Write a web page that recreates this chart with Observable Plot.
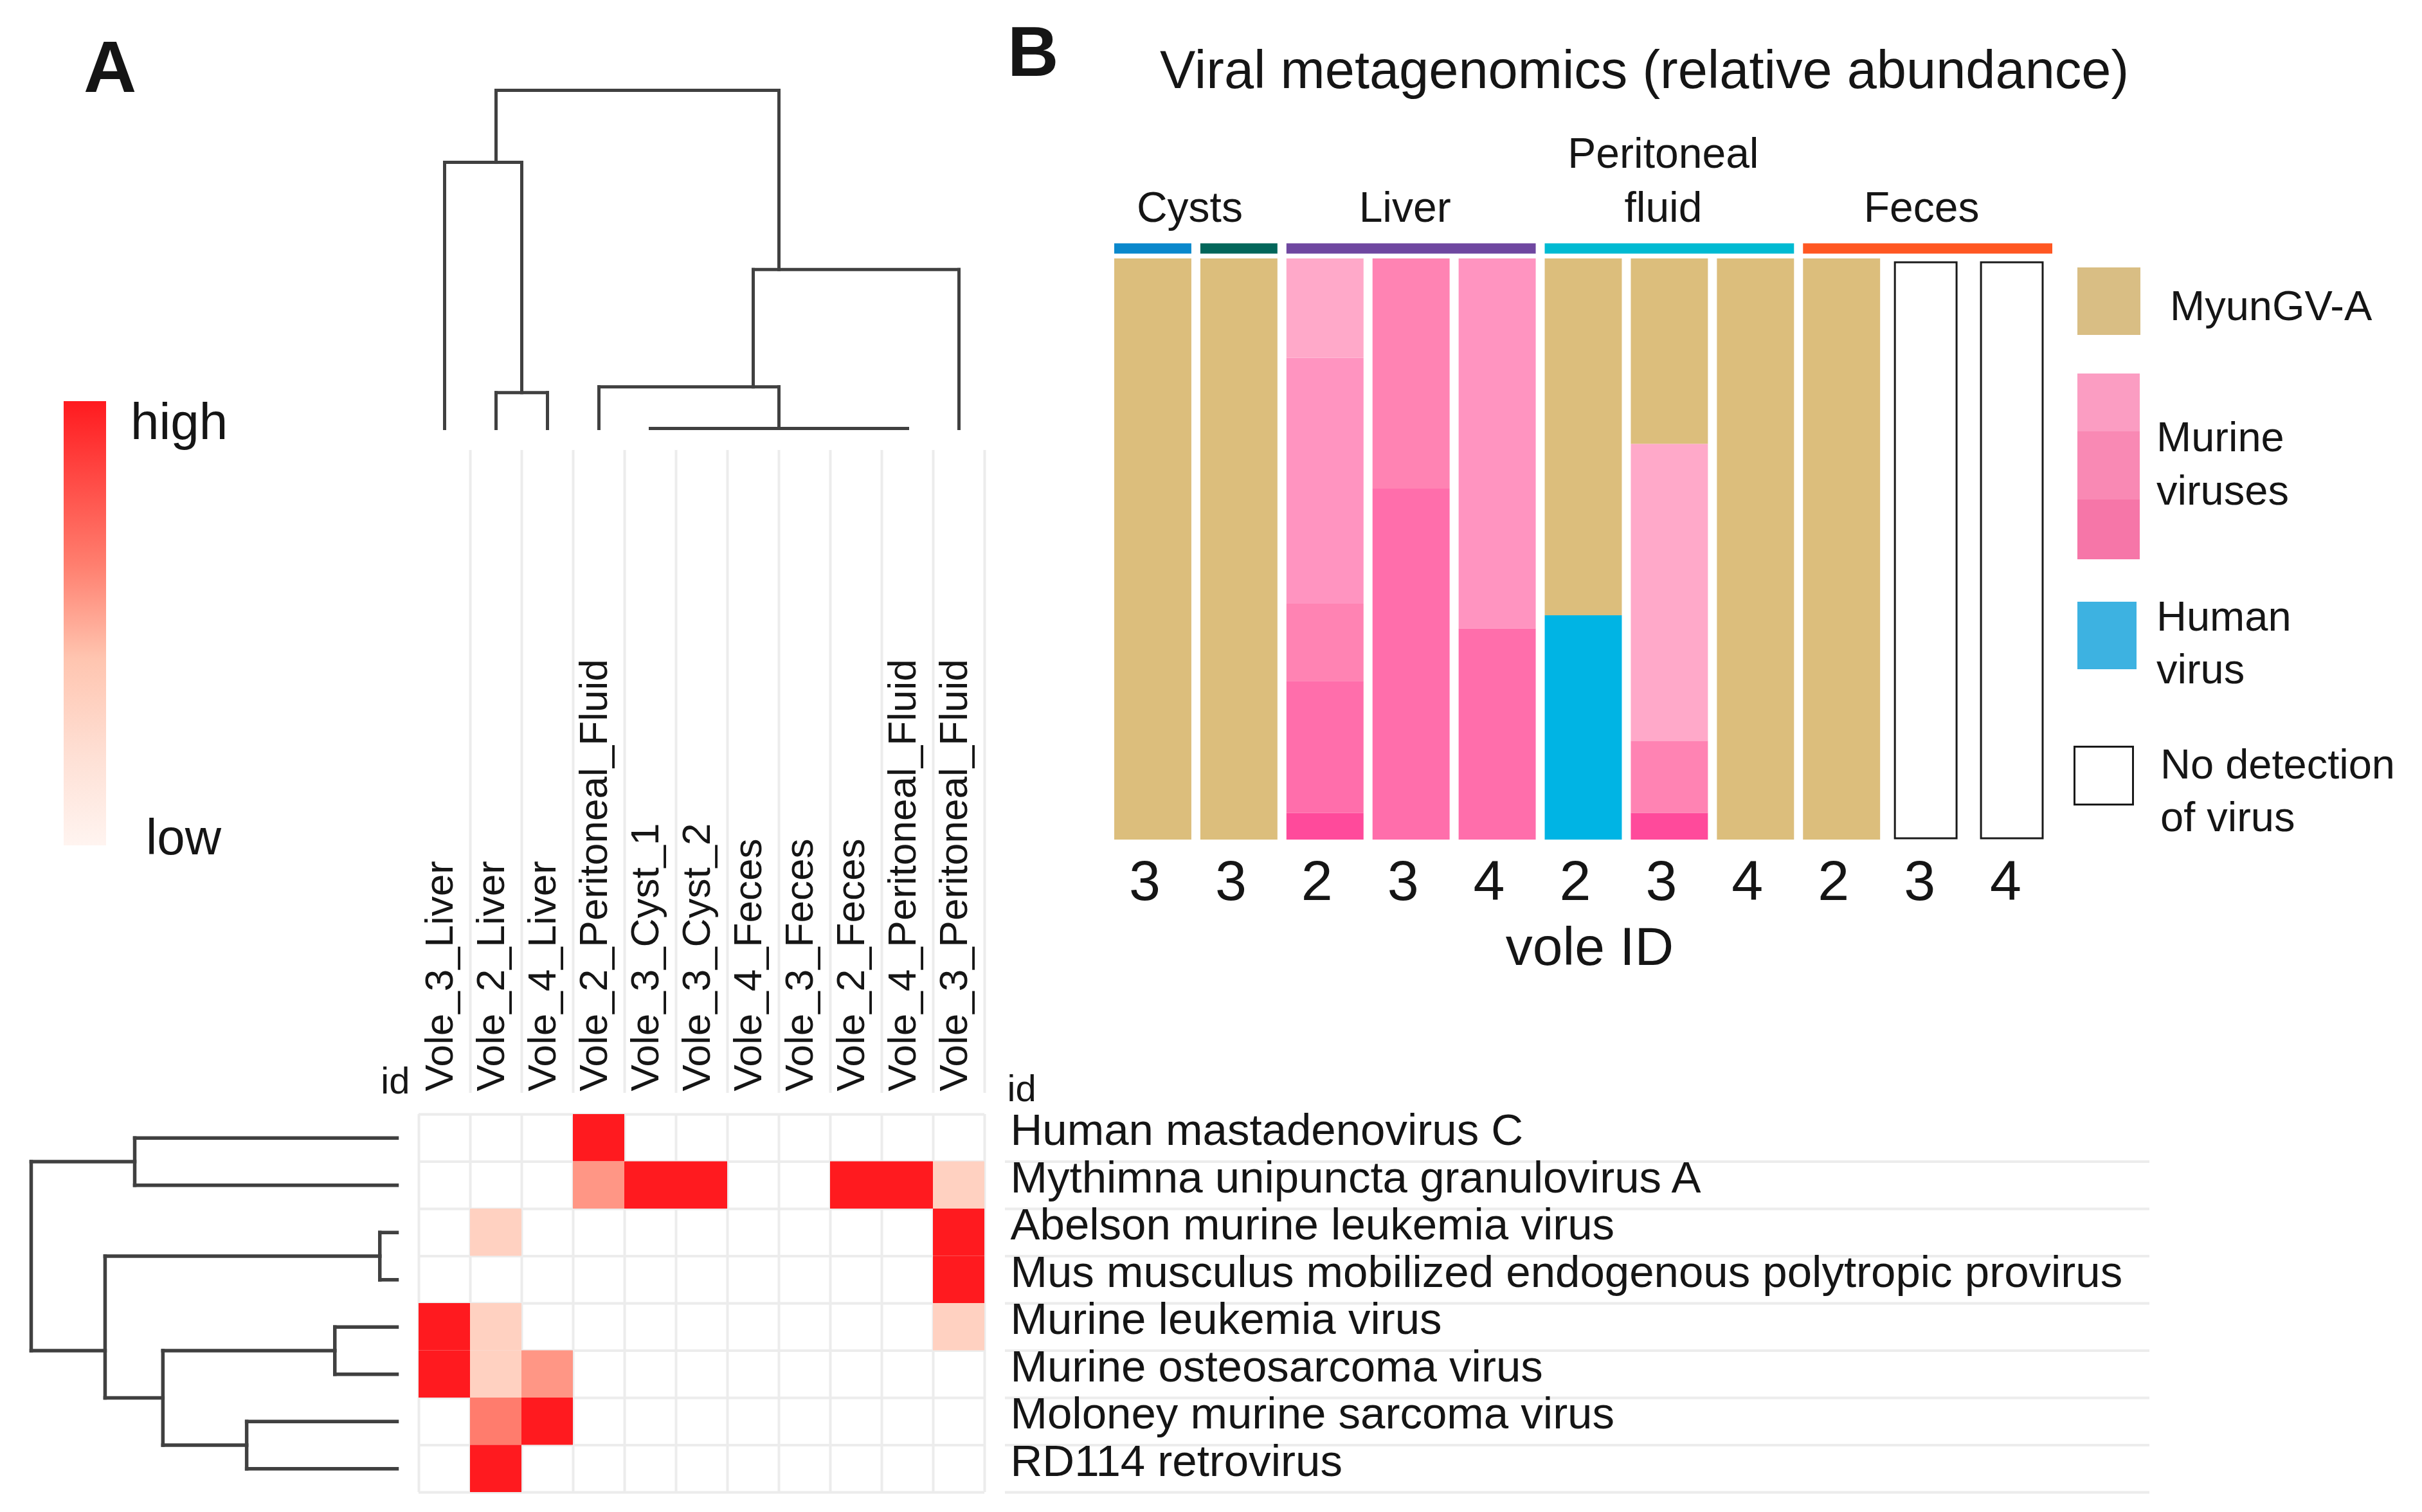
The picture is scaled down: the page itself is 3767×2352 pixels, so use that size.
<!DOCTYPE html>
<html><head><meta charset="utf-8">
<script src="https://cdn.jsdelivr.net/npm/d3@7"></script>
<script src="https://cdn.jsdelivr.net/npm/@observablehq/plot@0.6"></script>
<style>
html,body{margin:0;padding:0;background:#fff;}
#root{position:relative;width:3767px;height:2352px;overflow:hidden;font-family:"Liberation Sans",Arial,Helvetica,sans-serif;color:#151515;background:#fff;}
.lbl{position:absolute;white-space:pre;margin:0;padding:0;}
.sw{position:absolute;box-sizing:border-box;}
</style></head><body><div id="root"></div>
<script>
// ---------------- Panel A: heatmap data ----------------
const sampleIds = ["Vole_3_Liver","Vole_2_Liver","Vole_4_Liver","Vole_2_Peritoneal_Fluid","Vole_3_Cyst_1","Vole_3_Cyst_2","Vole_4_Feces","Vole_3_Feces","Vole_2_Feces","Vole_4_Peritoneal_Fluid","Vole_3_Peritoneal_Fluid"];
const virusNames = ["Human mastadenovirus C","Mythimna unipuncta granulovirus A","Abelson murine leukemia virus","Mus musculus mobilized endogenous polytropic provirus","Murine leukemia virus","Murine osteosarcoma virus","Moloney murine sarcoma virus","RD114 retrovirus"];
// relative abundance (0 = absent, 1 = high), rows = viruses, columns = samples
const abundance = [
  [0,0,0,1,0,0,0,0,0,0,0],
  [0,0,0,0.56,1,1,0,0,1,1,0.32],
  [0,0.32,0,0,0,0,0,0,0,0,1],
  [0,0,0,0,0,0,0,0,0,0,1],
  [1,0.32,0,0,0,0,0,0,0,0,0.32],
  [1,0.32,0.56,0,0,0,0,0,0,0,0],
  [0,0.64,1,0,0,0,0,0,0,0,0],
  [0,1,0,0,0,0,0,0,0,0,0]
];
const heatStops  = [0, 0.2, 0.42, 0.63, 1];
const heatColors = ["#FFF4F0", "#FEE0D5", "#FFC5B0", "#FF7F6F", "#FF1A1F"];
// dendrograms: leaves are indices in display order, heights relative to root
const colTree = [
  {id:"c12",   children:[1,2],           height:0.106},
  {id:"c012",  children:[0,"c12"],       height:0.787},
  {id:"c4_9",  children:[4,5,6,7,8,9],   height:0},
  {id:"c3_9",  children:[3,"c4_9"],      height:0.123},
  {id:"c3_10", children:["c3_9",10],     height:0.470},
  {id:"croot", children:["c012","c3_10"],height:1}
];
const rowTree = [
  {id:"r01",   children:[0,1],           height:0.717},
  {id:"r23",   children:[2,3],           height:0.047},
  {id:"r45",   children:[4,5],           height:0.170},
  {id:"r67",   children:[6,7],           height:0.411},
  {id:"r4_7",  children:["r45","r67"],   height:0.640},
  {id:"r2_7",  children:["r23","r4_7"],  height:0.798},
  {id:"rroot", children:["r01","r2_7"],  height:1}
];

// ---------------- Panel B: stacked bar data ----------------
const barSamples = ["Cyst_3a","Cyst_3b","Liver_2","Liver_3","Liver_4","PF_2","PF_3","PF_4","Feces_2","Feces_3","Feces_4"];
const voleIds    = ["3","3","2","3","4","2","3","4","2","3","4"];
const groupNames = ["Cysts","Liver","Peritoneal\nfluid","Feces"];
const groupFirst = [0,2,5,8];
const groupLast  = [1,4,7,10];
const stripFirst  = [0,1,2,5,8];
const stripLast   = [0,1,4,7,10];
const stripColors = ["#0A88CC","#03665A","#6F47A0","#00BAD2","#FF5722"];
const virusCategories = ["MyunGV-A","Human virus","Murine 1","Murine 2","Murine 3","Murine 4","Murine 5"];
const virusColors     = ["#DCBE7C","#00B4E4","#FFA9C9","#FF94C0","#FF83B3","#FF6EAB","#FF4A9B"];
// segments listed bottom to top (percent of reads)
const segSample  = ["Cyst_3a","Cyst_3b",
  "Liver_2","Liver_2","Liver_2","Liver_2","Liver_2",
  "Liver_3","Liver_3",
  "Liver_4","Liver_4",
  "PF_2","PF_2",
  "PF_3","PF_3","PF_3","PF_3",
  "PF_4","Feces_2"];
const segVirus   = ["MyunGV-A","MyunGV-A",
  "Murine 5","Murine 4","Murine 3","Murine 2","Murine 1",
  "Murine 4","Murine 3",
  "Murine 4","Murine 2",
  "Human virus","MyunGV-A",
  "Murine 5","Murine 3","Murine 1","MyunGV-A",
  "MyunGV-A","MyunGV-A"];
const segPercent = [100,100,
  4.6,22.7,13.3,42.3,17.1,
  60.4,39.6,
  36.3,63.7,
  38.6,61.4,
  4.6,12.4,51.1,31.9,
  100,100];
const noDetection = ["Feces_3","Feces_4"];

// ---------------- layout ----------------
const W = 3767, H = 2352;
const FONT = "'Liberation Sans',Arial,Helvetica,sans-serif";
const svgStyle = `position:absolute;left:0;top:0;background:transparent;overflow:visible;max-width:none;color:#151515;font-family:${FONT};`;
const rootEl = document.getElementById("root");

function addText(txt, left, baseline, size, opts = {}) {
  const d = document.createElement("div");
  d.className = "lbl";
  d.textContent = txt;
  const lh = opts.lineHeight || size;
  d.style.fontSize = size + "px";
  d.style.lineHeight = lh + "px";
  d.style.left = left + "px";
  d.style.top = (baseline - ((lh - 1.117 * size) / 2 + 0.905 * size)) + "px";
  if (opts.bold) d.style.fontWeight = "bold";
  rootEl.appendChild(d);
}
function addBox(left, topPx, w, h, css) {
  const d = document.createElement("div");
  d.className = "sw";
  Object.assign(d.style, {left: left + "px", top: topPx + "px", width: w + "px", height: h + "px"}, css);
  rootEl.appendChild(d);
}

function dendroSegments(tree) {
  const nodes = new Map();
  const pos = k => typeof k === "number" ? k + 0.5 : nodes.get(k).pos;
  const hgt = k => typeof k === "number" ? 0 : nodes.get(k).height;
  const leaves = k => typeof k === "number" ? [k] : nodes.get(k).leaves;
  const segs = [];
  for (const n of tree) {
    const lv = n.children.flatMap(leaves);
    nodes.set(n.id, {pos: d3.mean(lv) + 0.5, height: n.height, leaves: lv});
    const cp = n.children.map(pos);
    segs.push({p1: d3.min(cp), p2: d3.max(cp), h1: n.height, h2: n.height});
    for (const c of n.children) segs.push({p1: pos(c), p2: pos(c), h1: hgt(c), h2: n.height});
  }
  return segs;
}

// ---------------- Panel A: heatmap ----------------
const nC = sampleIds.length, nR = virusNames.length;
const cells = [];
abundance.forEach((row, r) => row.forEach((v, c) => { if (v > 0) cells.push({r, c, v}); }));
const grid = "#ECECEC";

const heat = Plot.plot({
  width: W, height: H,
  marginLeft: 1563, marginRight: W - 3343, marginTop: 700, marginBottom: H - 1700,
  x: {domain: [0, nC], range: [651, 1531], axis: null},
  y: {domain: [0, nR], range: [1733, 2321], axis: null},
  color: {type: "linear", domain: heatStops, range: heatColors},
  style: svgStyle,
  marks: [
    Plot.ruleX(d3.range(1, nC + 1), {stroke: grid, strokeWidth: 4}),
    Plot.ruleY(d3.range(1, nR + 1), {stroke: grid, strokeWidth: 4}),
    Plot.ruleX(d3.range(0, nC + 1), {y1: 0, y2: nR, stroke: grid, strokeWidth: 4}),
    Plot.ruleY(d3.range(0, nR + 1), {x1: 0, x2: nC, stroke: grid, strokeWidth: 4}),
    Plot.rect(cells, {x1: d => d.c, x2: d => d.c + 1, y1: d => d.r, y2: d => d.r + 1, fill: "v"}),
    Plot.text(sampleIds, {x: (d, i) => i + 0.5, y: 0, rotate: -90, textAnchor: "start", lineAnchor: "bottom", dx: 12, dy: -36, fontSize: 62, fill: "#151515"}),
    Plot.text(virusNames, {x: nC, y: (d, i) => i + 0.5, textAnchor: "start", lineAnchor: "bottom", dx: 40, dy: 11, fontSize: 69, fill: "#151515"}),
    Plot.text(["id"], {x: 0, y: 0, textAnchor: "end", lineAnchor: "bottom", dx: -14, dy: -33, fontSize: 58, fill: "#151515"}),
    Plot.text(["id"], {x: nC, y: 0, textAnchor: "start", lineAnchor: "bottom", dx: 35, dy: -21, fontSize: 58, fill: "#151515"})
  ]
});

const colDendro = Plot.plot({
  width: W, height: H, margin: 0,
  x: {domain: [0, nC], range: [651, 1531], axis: null},
  y: {domain: [0, 1], range: [666, 140], axis: null},
  style: svgStyle,
  marks: [
    Plot.link(dendroSegments(colTree), {x1: "p1", x2: "p2", y1: "h1", y2: "h2", stroke: "#404040", strokeWidth: 5, strokeLinecap: "square"})
  ]
});

const rowDendro = Plot.plot({
  width: W, height: H, margin: 0,
  x: {domain: [0, 1], range: [617, 48], axis: null},
  y: {domain: [0, nR], range: [1733, 2321], axis: null},
  style: svgStyle,
  marks: [
    Plot.link(dendroSegments(rowTree), {x1: "h1", x2: "h2", y1: "p1", y2: "p2", stroke: "#404040", strokeWidth: 5.5, strokeLinecap: "square"})
  ]
});

// ---------------- Panel B: stacked bars ----------------
const nB = barSamples.length;
const stackTop = new Map();
const segs = segSample.map((s, k) => {
  const y1 = stackTop.get(s) ?? 0, y2 = y1 + segPercent[k];
  stackTop.set(s, y2);
  return {i: barSamples.indexOf(s), y1, y2, virus: segVirus[k]};
});
const empty = noDetection.map(s => ({i: barSamples.indexOf(s)}));
const strips = stripFirst.map((f, k) => ({f, l: stripLast[k], c: stripColors[k]}));
const groups = groupNames.map((g, k) => ({g, f: groupFirst[k], l: groupLast[k]}));

const bars = Plot.plot({
  width: W, height: H,
  marginLeft: 1726, marginRight: W - 3218, marginTop: 402, marginBottom: H - 1306,
  x: {domain: [0, nB], range: [1726, 3199], axis: null},
  y: {domain: [0, 100], range: [1306, 402], axis: null},
  color: {domain: virusCategories, range: virusColors},
  style: svgStyle,
  marks: [
    Plot.rect(segs, {x1: d => d.i, x2: d => d.i + 1, y1: "y1", y2: "y2", fill: "virus", insetLeft: 7, insetRight: 7}),
    Plot.rect(empty, {x1: d => d.i, x2: d => d.i + 1, y1: 0, y2: 100, fill: "white", stroke: "#1a1a1a", strokeWidth: 3, insetLeft: 19, insetRight: 19, insetTop: 6, insetBottom: 2, dx: -3}),
    Plot.ruleY(strips, {y: 100, x1: d => d.f, x2: d => d.l + 1, stroke: d => d.c, strokeWidth: 16, insetLeft: 7, insetRight: 7, dy: -16}),
    Plot.text(groups, {x: d => (d.f + d.l + 1) / 2, y: 100, text: "g", lineAnchor: "bottom", lineHeight: 1.258, dy: -58, dx: -10, fontSize: 66, fill: "#151515"}),
    Plot.axisX(d3.range(nB).map(i => i + 0.5), {anchor: "bottom", tickSize: 0, tickPadding: 31, fontSize: 88, label: null, dx: -13, tickFormat: d => voleIds[Math.floor(d)], fill: "#151515"}),
    Plot.text(["vole ID"], {frameAnchor: "bottom", lineAnchor: "bottom", dy: 194, fontSize: 84, fill: "#151515"})
  ]
});

// ---------------- assemble ----------------
// colour key of panel A (gradient from the heatmap's own stops)
addBox(99, 624, 66, 691, {background: `linear-gradient(to top, ${heatColors.map((c, i) => `${c} ${heatStops[i] * 100}%`).join(", ")})`});
rootEl.appendChild(heat);
rootEl.appendChild(colDendro);
rootEl.appendChild(rowDendro);
rootEl.appendChild(bars);

addText("A", 130, 144, 114, {bold: true});
addText("B", 1567, 118, 110, {bold: true});
addText("Viral metagenomics (relative abundance)", 1804, 137, 83);
addText("high", 203, 684, 80);
addText("low", 227, 1329, 78);

// legend of panel B
addBox(3231, 416, 98, 105, {background: "#D9BE84"});
addBox(3231, 581, 97, 289, {background: "linear-gradient(to bottom, #FB9DC2 0px, #FB9DC2 90px, #F989B4 90px, #F989B4 196px, #F676A8 196px, #F676A8 289px)"});
addBox(3231, 936, 92, 105, {background: "#3DB2E1"});
addBox(3225, 1160, 94, 93, {background: "#fff", border: "3px solid #1a1a1a"});
addText("MyunGV-A", 3375, 498, 65);
addText("Murine\nviruses", 3354, 702, 65, {lineHeight: 83});
addText("Human\nvirus", 3354, 982, 65, {lineHeight: 82});
addText("No detection\nof virus", 3360, 1212, 65, {lineHeight: 82});
</script></body></html>
